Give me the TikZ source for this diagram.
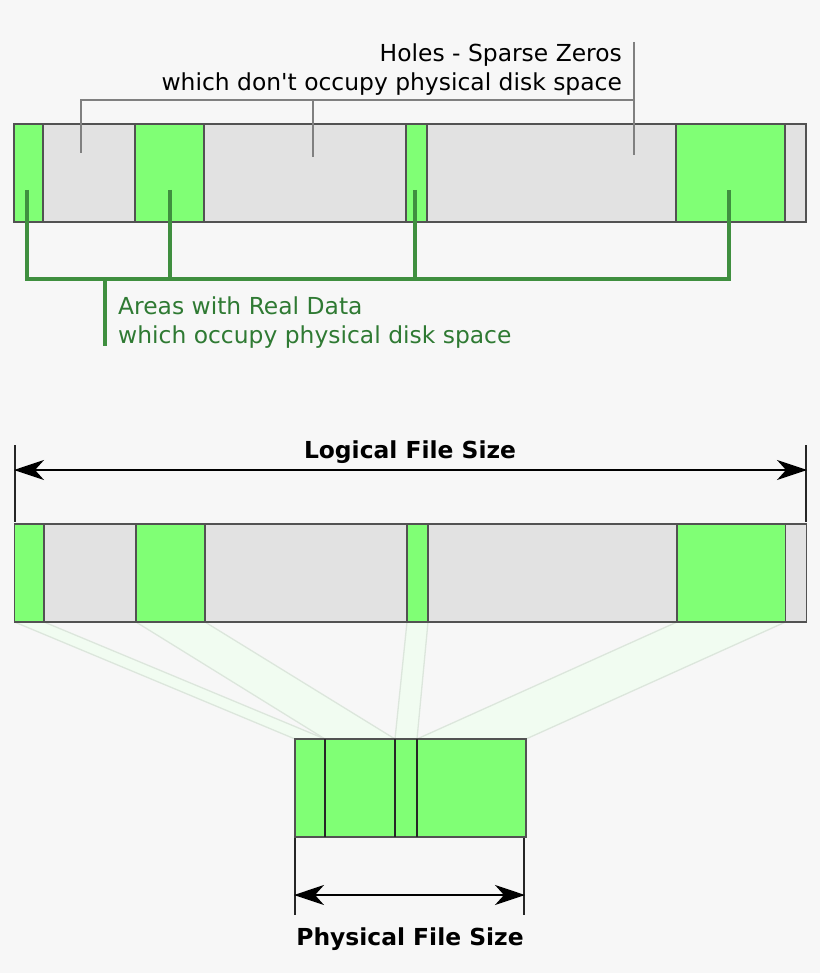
\documentclass[tikz,border=0pt]{standalone}
\usepackage{fontspec}
\setmainfont{DejaVu Sans}
\usetikzlibrary{arrows.meta, backgrounds, positioning}
\definecolor{paper}{HTML}{F7F7F7}
\definecolor{datagreen}{HTML}{80FF75}
\definecolor{holegray}{HTML}{E2E2E2}
\definecolor{leadgreen}{HTML}{3F8F3F}
\definecolor{textgreen}{HTML}{2F7A33}
\definecolor{bandfill}{HTML}{F1FCF1}
\definecolor{bandedge}{HTML}{DCE6DC}

\begin{document}
\begin{tikzpicture}[
x = 1pt, y = -1pt,
node distance = 0pt,
 seg/.style = {rectangle, draw=black!68, line width=1.1pt, minimum height=98pt, inner sep=0pt, outer sep=0pt},
 hole/.style = {seg, fill=holegray},
 data/.style = {seg, fill=datagreen},
 band/.style = {fill=bandfill, draw=bandedge, line width=1.3pt, line join=round},
 divider/.style = {black!85, line width=1.6pt},
 holelead/.style = {black!50, line width=1.4pt},
 datalead/.style = {leadgreen, line width=3.4pt},
 dimline/.style = {black!85, line width=2pt},
 dimarrow/.style = {black, line width=2pt, {Stealth[length=30pt, width=20pt, inset=9pt]}-{Stealth[length=30pt, width=20pt, inset=9pt]}},
 caption/.style = {font=\fontsize{23.4}{29}\selectfont, align=left, inner sep=0pt},
 dimtext/.style = {font=\fontsize{23.4}{28}\selectfont\bfseries, inner sep=0pt}
                    ]
\useasboundingbox (0,0) rectangle (820,973);

%top bar
\node[data, minimum width=29pt, anchor=north west] (a1) at (14,124) {};
\node[hole, minimum width=92pt] (a2) [right=of a1] {};
\node[data, minimum width=69pt] (a3) [right=of a2] {};
\node[hole, minimum width=202pt] (a4) [right=of a3] {};
\node[data, minimum width=21pt] (a5) [right=of a4] {};
\node[hole, minimum width=249pt] (a6) [right=of a5] {};
\node[data, minimum width=109pt] (a7) [right=of a6] {};
\node[hole, minimum width=21pt] (a8) [right=of a7] {};

%bottom bar
\node[data, minimum width=29.5pt, anchor=north west] (b1) at (14.5,524) {};
\node[hole, minimum width=92pt] (b2) [right=of b1] {};
\node[data, minimum width=69pt] (b3) [right=of b2] {};
\node[hole, minimum width=202pt] (b4) [right=of b3] {};
\node[data, minimum width=21pt] (b5) [right=of b4] {};
\node[hole, minimum width=249pt] (b6) [right=of b5] {};
\node[data, minimum width=108.5pt] (b7) [right=of b6] {};
\node[hole, minimum width=21pt] (b8) [right=of b7] {};

%physical file
\node[data, minimum width=30pt, anchor=north west] (p1) at (295,739) {};
\node[data, minimum width=70pt] (p2) [right=of p1] {};
\node[data, minimum width=22pt] (p3) [right=of p2] {};
\node[data, minimum width=109pt] (p4) [right=of p3] {};
\draw[divider] (p1.north east) -- (p1.south east);
\draw[divider] (p2.north east) -- (p2.south east);
\draw[divider] (p3.north east) -- (p3.south east);

% bands
\begin{scope}[on background layer]
\fill[paper] (0,0) rectangle (820,973);
\path[band] (b1.south west) -- (p1.north west) -- (p1.north east) -- (b1.south east) -- cycle;
\path[band] (b3.south west) -- (p2.north west) -- (p2.north east) -- (b3.south east) -- cycle;
\path[band] (b5.south west) -- (p3.north west) -- (p3.north east) -- (b5.south east) -- cycle;
\path[band] (b7.south west) -- (p4.north west) -- (p4.north east) -- (b7.south east) -- cycle;
\end{scope}

%captions
\node[caption, anchor=north east, align=right] (holes) at (622,44) {Holes - Sparse Zeros\\which don\textquotesingle t occupy physical disk space};
\node[caption, anchor=north west, text=textgreen] (real) at (118,297) {Areas with Real Data\\which occupy physical disk space};
\node[dimtext] (logical) at (410,452) {Logical File Size};
\node[dimtext] (physical) at (410,939) {Physical File Size};

% hole leaders
\coordinate (h0) at (634,42);
\coordinate (h1) at (81,153);
\coordinate (h2) at (313,157);
\coordinate (h3) at (634,155);
\coordinate (hj) at (634,100);
\draw[holelead] (h1) |- (hj);
\draw[holelead] (h0) -- (h3);
\draw[holelead] (h2) -- (h2 |- hj);

% data leaders
\coordinate (g1) at (27,190);
\coordinate (g2) at (170,190);
\coordinate (g3) at (415,190);
\coordinate (g4) at (729,190);
\coordinate (gj) at (105,279);
\coordinate (g0) at (105,346);
\draw[datalead, line join=miter] (g1) |- (gj) -| (g4);
\draw[datalead] (g2) -- (g2 |- gj);
\draw[datalead] (g3) -- (g3 |- gj);
\draw[datalead] (gj) -- (g0);

% dimensions
\coordinate (l1) at (14.5,445);
\coordinate (l2) at (806,445);
\coordinate (l3) at (14.5,522);
\coordinate (l4) at (806,522);
\coordinate (m1) at (294.5,838);
\coordinate (m2) at (524,838);
\coordinate (m3) at (294.5,915);
\coordinate (m4) at (524,915);
\coordinate (la) at (14,470);
\coordinate (lb) at (807,470);
\coordinate (ma) at (294,895);
\coordinate (mb) at (525,895);
\draw[dimline] (l1) -- (l3);
\draw[dimline] (l2) -- (l4);
\draw[dimline] (m1) -- (m3);
\draw[dimline] (m2) -- (m4);
\draw[dimarrow] (la) -- (lb);
\draw[dimarrow] (ma) -- (mb);
\end{tikzpicture}
\end{document}
